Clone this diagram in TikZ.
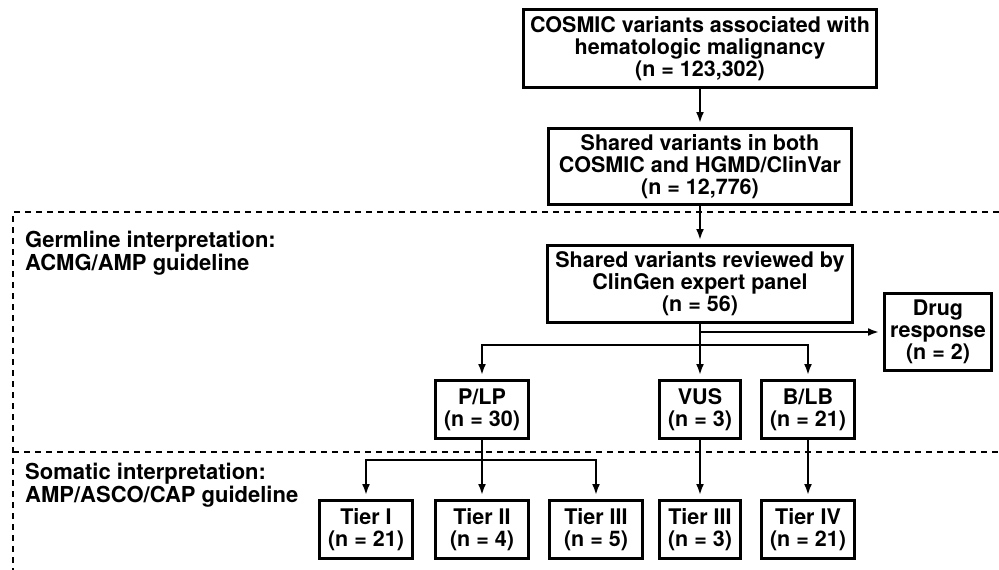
\documentclass[tikz,border=0pt]{standalone}
\usepackage{fontspec}
\setmainfont{TeX Gyre Heros}
\usetikzlibrary{positioning, calc, arrows.meta}

\begin{document}
\begin{tikzpicture}[x=1pt,y=-1pt,node distance=38pt,>={Latex[length=11pt,width=8pt]},
    box/.style={draw,line width=3pt,align=center,inner sep=2pt,
      font=\fontsize{21.5}{22}\selectfont\bfseries},
    wide/.style={box,minimum width=93pt,minimum height=58pt},
    narrow/.style={box,minimum width=81pt,minimum height=58pt},
    link/.style={->,line width=2.2pt,shorten >=4pt},
    divider/.style={line width=2pt,dash pattern=on 6pt off 5pt},
    secttext/.style={anchor=north west,inner sep=0pt,align=left,
      font=\fontsize{22}{23}\selectfont\bfseries}]
      \useasboundingbox (0,0) rectangle (999,570);
      %
      \coordinate (germ_top) at (13,212);
      \coordinate (soma_top) at (13,452);
      \draw[divider] (999,212) -- (germ_top) -- (13,570);
      \draw[divider] (soma_top) -- (999,452);
      \node[secttext] (germ) at (25,231) {Germline interpretation:\\ACMG/AMP guideline};
      \node[secttext] (soma) at (25,463) {Somatic interpretation:\\AMP/ASCO/CAP guideline};
      %
      \node[box,minimum width=353pt,minimum height=78pt] (cosmic) at (700,48.5)
        {COSMIC variants associated with\\hematologic malignancy\\(n = 123,302)};
      \node[box,minimum width=303pt,minimum height=76pt,below=of cosmic] (shared)
        {Shared variants in both\\COSMIC and HGMD/ClinVar\\(n = 12,776)};
      \node[box,minimum width=305pt,minimum height=77pt,below=of shared] (clingen)
        {Shared variants reviewed by\\ClinGen expert panel\\(n = 56)};
      \node[box,minimum width=107pt,minimum height=77pt] (drug) at (938,332)
        {Drug\\response\\(n = 2)};
      %
      \node[wide] (plp) at (482,409.5) {P/LP\\(n = 30)};
      \node[narrow] (vus) at (700,409.5) {VUS\\(n = 3)};
      \node[wide] (blb) at (808,409.5) {B/LB\\(n = 21)};
      %
      \node[wide,below=59pt of plp] (tier2) {Tier II\\(n = 4)};
      \node[wide,left=20pt of tier2] (tier1) {Tier I\\(n = 21)};
      \node[wide,right=18pt of tier2] (tier3) {Tier III\\(n = 5)};
      \node[narrow,below=59pt of vus] (vustier) {Tier III\\(n = 3)};
      \node[wide,below=59pt of blb] (blbtier) {Tier IV\\(n = 21)};
      %
      \draw[link] (cosmic) -- (shared);
      \draw[link] (shared) -- (clingen);
      \draw[link] (clingen) -- (vus);
      \coordinate (drug_split) at (clingen.south |- drug.west);
      \draw[link] (drug_split) -- (drug);
      \coordinate (class_split) at (700,345);
      \draw[link] (class_split) -| (plp);
      \draw[link] (class_split) -| (blb);
      %
      \draw[link] (plp) -- (tier2);
      \coordinate (tier_split) at (482,460);
      \draw[link] (tier_split) -| (tier1);
      \draw[link] (tier_split) -| (tier3);
      \draw[link] (vus) -- (vustier);
      \draw[link] (blb) -- (blbtier);
  \end{tikzpicture}
\end{document}
